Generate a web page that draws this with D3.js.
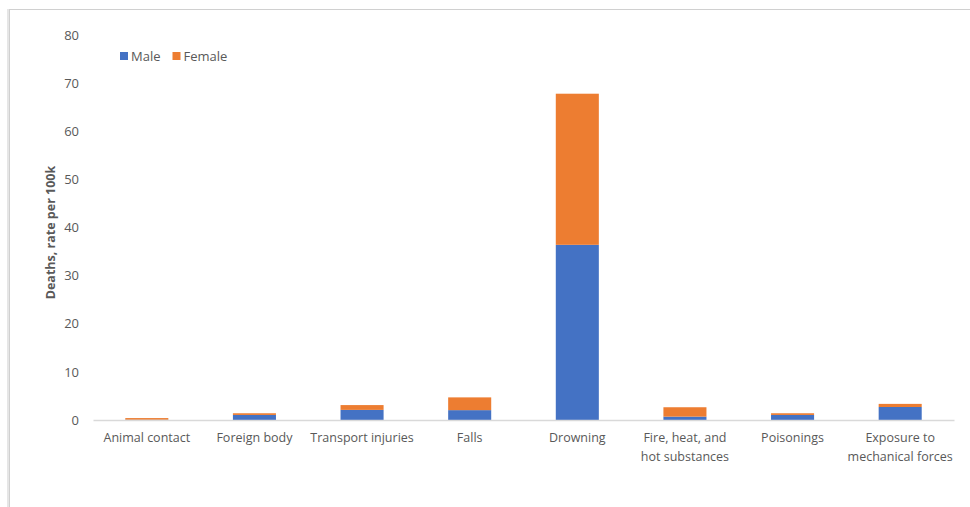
<!DOCTYPE html>
<html>
<head>
<meta charset="utf-8">
<script src="https://cdn.jsdelivr.net/npm/d3@7"></script>
<style>
  html, body { margin: 0; padding: 0; background: #fff; }
  svg { display: block; }
  text { font-family: "Open Sans", "Liberation Sans", sans-serif; fill: #595959; }
</style>
</head>
<body>
<svg id="chart" width="970" height="507"></svg>
<script>
// Injury death rates per 100k, split by sex
const categories = ["Animal contact", "Foreign body", "Transport injuries", "Falls",
  "Drowning", "Fire, heat, and hot substances", "Poisonings", "Exposure to mechanical forces"];
// where each axis label breaks onto a second line
const labelLines = [["Animal contact"], ["Foreign body"], ["Transport injuries"], ["Falls"],
  ["Drowning"], ["Fire, heat, and", "hot substances"], ["Poisonings"], ["Exposure to", "mechanical forces"]];
const male   = [0.05, 1.05, 2.1, 2.05, 36.4, 0.7, 1.05, 2.7];
const female = [0.35, 0.35, 1.0, 2.65, 31.4, 1.95, 0.35, 0.65];
const seriesNames = ["Male", "Female"];
const seriesColors = ["#4472C4", "#ED7D31"];
const yTicks = [0, 10, 20, 30, 40, 50, 60, 70, 80];

const svg = d3.select("#chart");
const W = 970, H = 507;

// chart frame
svg.append("rect").attr("x", 9.5).attr("y", 9.5).attr("width", W + 20).attr("height", H + 20)
  .attr("fill", "#fff").attr("stroke", "#d0d0d0").attr("stroke-width", 1);
svg.append("line").attr("x1", 8).attr("x2", 8).attr("y1", 9).attr("y2", H)
  .attr("stroke", "#e6e6e6").attr("stroke-width", 2);

const plot = { left: 93, right: 954, top: 35, bottom: 420 };

const x = d3.scaleBand().domain(categories).range([plot.left, plot.right])
  .paddingInner(0.6).paddingOuter(0.3);
const y = d3.scaleLinear().domain([0, 80]).range([plot.bottom, plot.top]);

const rows = categories.map((c, i) => ({ cat: c, Male: male[i], Female: female[i] }));
const stacked = d3.stack().keys(seriesNames)(rows);

// bars
svg.append("g").selectAll("g").data(stacked).join("g")
  .attr("fill", (d, i) => seriesColors[i])
  .selectAll("rect").data(d => d).join("rect")
  .attr("x", d => x(d.data.cat))
  .attr("width", x.bandwidth())
  .attr("y", d => y(d[1]))
  .attr("height", d => y(d[0]) - y(d[1]));

// y axis labels (no axis line)
const yAxis = svg.append("g").attr("transform", `translate(${plot.left},0)`)
  .call(d3.axisLeft(y).tickValues(yTicks).tickSize(0).tickPadding(14));
yAxis.select(".domain").remove();
yAxis.selectAll("text").attr("font-size", 13).style("font-family", "'Open Sans', sans-serif").attr("fill", "#595959");

// x axis baseline and category labels
const xAxis = svg.append("g").attr("transform", `translate(0,${plot.bottom})`)
  .call(d3.axisBottom(x).tickSize(0).tickPadding(13));
xAxis.select(".domain").attr("stroke", "#d9d9d9").attr("stroke-width", 1.5);
xAxis.selectAll(".tick text")
  .attr("font-size", 12.5).style("font-family", "'Open Sans', sans-serif").attr("fill", "#595959")
  .each(function (d) {
    const t = d3.select(this);
    const yy = t.attr("y"), dy = parseFloat(t.attr("dy"));
    const lines = labelLines[categories.indexOf(d)];
    t.text(null);
    lines.forEach((ln, i) => {
      t.append("tspan").attr("x", 0).attr("y", yy)
        .attr("dy", (dy + i * 1.5) + "em").text(ln);
    });
  });

// y axis title
svg.append("text")
  .attr("transform", `translate(55,${(plot.top + plot.bottom) / 2 + 5}) rotate(-90)`)
  .attr("text-anchor", "middle").attr("font-size", 12.5).attr("font-weight", "bold")
  .text("Deaths, rate per 100k");

// legend
const legend = svg.append("g").attr("transform", "translate(120,52)");
let lx = 0;
seriesNames.forEach((name, i) => {
  const g = legend.append("g").attr("transform", `translate(${lx},0)`);
  g.append("rect").attr("width", 8).attr("height", 8).attr("fill", seriesColors[i]);
  const t = g.append("text").attr("x", 11).attr("y", 8.5).attr("font-size", 13).text(name);
  lx += 11 + t.node().getComputedTextLength() + 12;
});
</script>
</body>
</html>
